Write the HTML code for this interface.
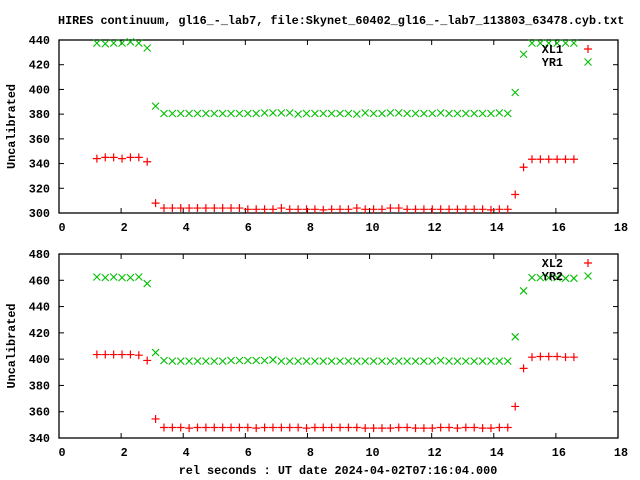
<!DOCTYPE html>
<html><head><meta charset="utf-8"><style>
body{margin:0;background:#fff;}
svg{display:block;font-family:"Liberation Mono",monospace;font-size:11.8px;font-weight:bold;}
</style></head><body>
<svg id="chart" width="640" height="480" xmlns="http://www.w3.org/2000/svg">
<text x="58" y="24">HIRES continuum, gl16_-_lab7, file:Skynet_60402_gl16_-_lab7_113803_63478.cyb.txt</text>
<text x="338" y="474" text-anchor="middle">rel seconds : UT date 2024-04-02T07:16:04.000</text>
</svg>
<script>
const xTicks=[0,2,4,6,8,10,12,14,16,18];
const yTicks1=[300,320,340,360,380,400,420,440];
const yTicks2=[340,360,380,400,420,440,460,480];
const times=[1.22,1.49,1.76,2.03,2.30,2.57,2.84,3.11,3.38,3.65,3.92,4.19,4.46,4.73,5.00,5.27,5.54,5.81,6.08,6.35,6.62,6.89,7.16,7.43,7.70,7.97,8.24,8.51,8.78,9.05,9.32,9.59,9.86,10.13,10.40,10.67,10.94,11.21,11.48,11.75,12.02,12.29,12.56,12.83,13.10,13.37,13.64,13.91,14.18,14.45,14.69,14.96,15.23,15.50,15.77,16.04,16.31,16.58];
const xl1=[344,345,345,344,345,345,341.5,308,304,304,304,304,304,304,304,304,304,304,303,303,303,303,304,303,303,303,303,302.5,303,303,303,304,303,303,303,304,304,303,303,303,303,303,303,303,303,303,303,302.5,303,303,315,337,343.5,343.5,343.5,343.5,343.5,343.5];
const yr1=[437.5,437,437.5,437.5,438.5,437.5,433.5,386.5,380.5,380.5,380.5,380.5,380.5,380.5,380.5,380.5,380.5,380.5,380.5,380.5,381,381,381,381,380,380.5,380.5,380.5,380.5,380.5,380.5,380,381,380.5,380.5,381,381,380.5,380.5,380.5,380.5,381,380.5,380.5,380.5,380.5,380.5,380.5,381,380.5,397.5,428.5,437.5,437.5,437.5,437.5,437.5,437.5];
const xl2=[403.5,403.5,403.5,403.5,403.5,403,399,354.5,348,348,348,347.5,348,348,348,348,348,348,348,347.5,348,348,348,348,348,347.5,348,348,348,348,348,348,347.5,347.5,347.5,347.5,348,348,347.5,347.5,347.5,348,348,347.5,348,348,347.5,347.5,348,348,364,393,401.5,402,402,402,401.5,401.5];
const yr2=[462.5,462,462.5,462,462,462.5,457.5,405,399,398.5,398.5,398.5,398.5,398.5,398.5,398.5,399,399,399,399,399,399.5,398.5,398.5,398.5,398.5,398.5,398.5,398.5,398.5,398.5,398.5,398.5,398.5,398.5,398.5,398.5,398.5,398.5,398.5,398.5,399,398.5,398.5,398.5,398.5,398.5,398.5,398.5,398.5,417,452,462,462,462,462,461.5,461.5];
const NS="http://www.w3.org/2000/svg";
const svg=document.getElementById('chart');
function mk(tag,attrs,parent){const e=document.createElementNS(NS,tag);for(const k in attrs)e.setAttribute(k,attrs[k]);(parent||svg).appendChild(e);return e;}
const L=59,R=618;
function xs(v){return L+(v-0)/18*(R-L);}
function panel(top,bot,ymin,ymax,yt,s1,s2,n1,n2,idx){
  const ys=v=>bot-(v-ymin)/(ymax-ymin)*(bot-top);
  const g=mk('g',{});
  
  
  const frame=mk('rect',{x:L,y:top,width:R-L,height:bot-top,fill:'none',stroke:'#000','stroke-width':1.3},g);
  
  
  xTicks.forEach(t=>{const x=xs(t);
    mk('line',{x1:x,x2:x,y1:bot,y2:bot-5,stroke:'#000'},g);
    mk('line',{x1:x,x2:x,y1:top,y2:top+5,stroke:'#000'},g);
    const tx=mk('text',{x:x+3,y:bot+18,'text-anchor':'middle'},g);tx.textContent=t;
    
    
  });
  yt.forEach(t=>{const y=ys(t);
    mk('line',{x1:L,x2:L+5,y1:y,y2:y,stroke:'#000'},g);
    mk('line',{x1:R,x2:R-5,y1:y,y2:y,stroke:'#000'},g);
    const tx=mk('text',{x:50,y:y+4,'text-anchor':'end'},g);tx.textContent=t;
    
    
  });
  const yl=mk('text',{transform:`translate(15,${(top+bot)/2}) rotate(-90)`,'text-anchor':'middle'},g);yl.textContent='Uncalibrated';
  
  
  const plus=(x,y,p)=>{const m=mk('path',{d:`M${x-4},${y}H${x+4}M${x},${y-4}V${y+4}`,stroke:'#f00','stroke-width':1.2,fill:'none'},p);return m;};
  const cross=(x,y,p)=>{const m=mk('path',{d:`M${x-3.5},${y-3.5}L${x+3.5},${y+3.5}M${x-3.5},${y+3.5}L${x+3.5},${y-3.5}`,stroke:'#00c000','stroke-width':1.1,fill:'none'},p);return m;};
  times.forEach((t,i)=>{const m=plus(xs(t),ys(s1[i]),g);
    
    });
  times.forEach((t,i)=>{const m=cross(xs(t),ys(s2[i]),g);
    
    });
  const l1=mk('text',{x:563,y:top+13,'text-anchor':'end'},g);l1.textContent=n1;
  
  
  plus(588,top+9,g);
  const l2=mk('text',{x:563,y:top+26,'text-anchor':'end'},g);l2.textContent=n2;
  
  
  cross(588,top+22,g);
}
panel(40,213,300,440,yTicks1,xl1,yr1,'XL1','YR1',1);
panel(254,438,340,480,yTicks2,xl2,yr2,'XL2','YR2',2);
</script>
</body></html>
